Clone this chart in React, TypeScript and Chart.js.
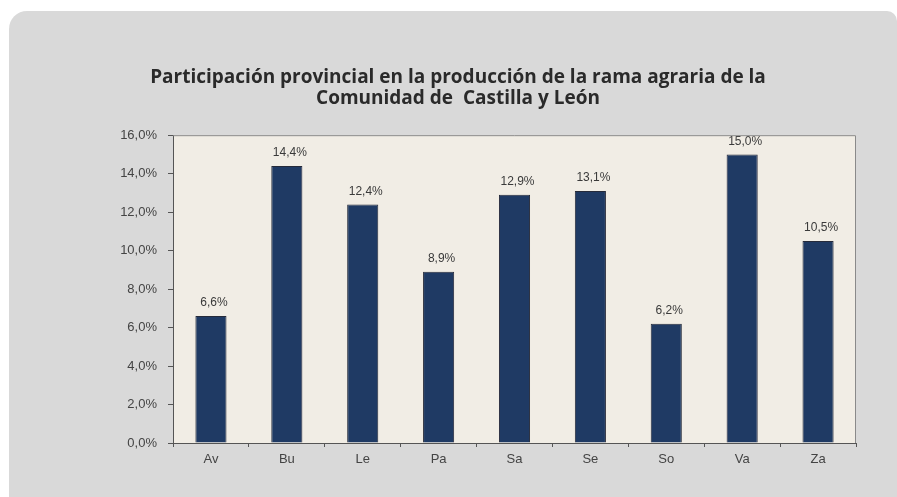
import React, { useEffect, useRef } from "react";
import { Chart, registerables } from "chart.js";

Chart.register(...registerables);

const categories = ["Av", "Bu", "Le", "Pa", "Sa", "Se", "So", "Va", "Za"];
const shares = [6.6, 14.4, 12.4, 8.9, 12.9, 13.1, 6.2, 15.0, 10.5];
const titleLines = [
  "Participación provincial en la producción de la rama agraria de la",
  "Comunidad de  Castilla y León",
];
const yMin = 0;
const yMax = 16;
const yStep = 2;

const fmt = (v: number) => v.toFixed(1).replace(".", ",") + "%";

const plotBg = {
  id: "plotBg",
  beforeDraw(chart: any) {
    const { ctx, chartArea: a } = chart;
    ctx.save();
    ctx.fillStyle = "#f1ede5";
    ctx.fillRect(a.left, a.top, a.right - a.left, a.bottom - a.top);
    ctx.restore();
  },
  afterDraw(chart: any) {
    const { ctx, chartArea: a } = chart;
    ctx.save();
    ctx.strokeStyle = "#8a8a8a";
    ctx.lineWidth = 1;
    ctx.beginPath();
    ctx.moveTo(a.left, a.top + 0.5);
    ctx.lineTo(a.right - 0.5, a.top + 0.5);
    ctx.lineTo(a.right - 0.5, a.bottom);
    ctx.stroke();
    ctx.restore();
  },
};

const valueLabels = {
  id: "valueLabels",
  afterDatasetsDraw(chart: any) {
    const { ctx } = chart;
    const meta = chart.getDatasetMeta(0);
    const data = chart.data.datasets[0].data as number[];
    ctx.save();
    ctx.font = "12px 'Liberation Sans', Arial, sans-serif";
    ctx.fillStyle = "#3a3a3a";
    ctx.textAlign = "center";
    ctx.textBaseline = "bottom";
    meta.data.forEach((bar: any, i: number) => {
      ctx.fillText(fmt(data[i]), bar.x + 3, bar.y - 7);
    });
    ctx.restore();
  },
};

export default function App() {
  const ref = useRef<HTMLCanvasElement | null>(null);

  useEffect(() => {
    document.body.style.margin = "0";
    const canvas = ref.current;
    if (!canvas) return;
    const chart = new Chart(canvas, {
      type: "bar",
      data: {
        labels: categories,
        datasets: [
          {
            data: shares,
            backgroundColor: "#1f3a64",
            borderColor: "#252a3a",
            borderWidth: 1,
            barPercentage: 0.41,
            categoryPercentage: 1,
          },
        ],
      },
      options: {
        animation: false,
        responsive: false,
        maintainAspectRatio: false,
        layout: { padding: { left: 60, right: 41, top: 67, bottom: 0 } },
        plugins: {
          legend: { display: false },
          tooltip: { enabled: false },
          title: {
            display: true,
            text: titleLines,
            color: "#2a2a2a",
            font: { family: "'Open Sans', sans-serif", size: 19, weight: "bold", lineHeight: 1.11 },
            padding: { top: 0, bottom: 26 },
          },
        },
        scales: {
          x: {
            grid: {
              display: true,
              drawOnChartArea: false,
              drawTicks: true,
              tickLength: 4,
              color: "#555",
              offset: true,
            },
            border: { display: true, color: "#555" },
            ticks: {
              color: "#444",
              padding: 5,
              font: { family: "'Liberation Sans', Arial, sans-serif", size: 13 },
            },
            afterFit(scale: any) {
              scale.height = 54;
            },
          },
          y: {
            min: yMin,
            max: yMax,
            grid: {
              display: true,
              drawOnChartArea: false,
              drawTicks: true,
              tickLength: 5,
              color: "#555",
            },
            border: { display: true, color: "#555" },
            ticks: {
              stepSize: yStep,
              color: "#444",
              padding: 11,
              font: { family: "'Liberation Sans', Arial, sans-serif", size: 13 },
              callback: (v: any) => fmt(Number(v)),
            },
            afterFit(scale: any) {
              scale.width = 113;
            },
          },
        },
      },
      plugins: [plotBg, valueLabels],
    });
    return () => chart.destroy();
  }, []);

  return (
    <div style={{ position: "relative", width: 897, height: 497, background: "#ffffff", overflow: "hidden" }}>
      <div
        style={{
          position: "absolute",
          left: 9,
          top: 11,
          width: 888,
          height: 486,
          background: "#d9d9d9",
          borderTopLeftRadius: 18,
          borderTopRightRadius: 10,
        }}
      />
      <canvas ref={ref} width={897} height={497} style={{ position: "absolute", left: 0, top: 0 }} />
    </div>
  );
}
